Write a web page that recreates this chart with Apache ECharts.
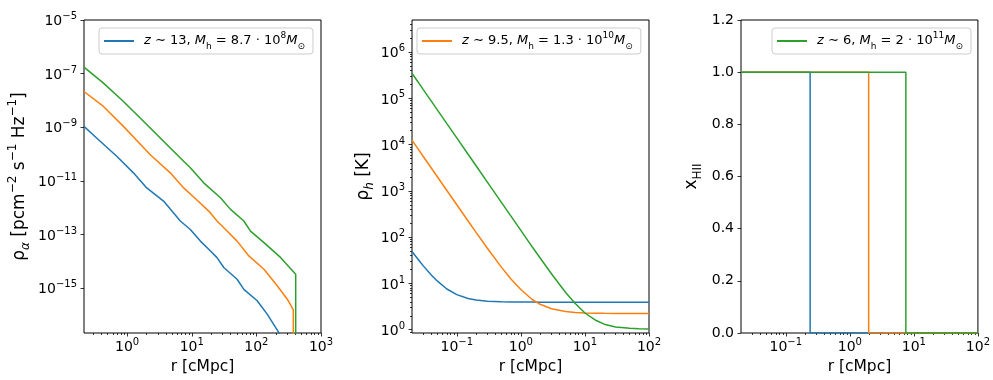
<!DOCTYPE html>
<html><head><meta charset="utf-8">
<script src="https://cdn.jsdelivr.net/npm/echarts@6/dist/echarts.min.js"></script>
<style>html,body{margin:0;padding:0;background:#fff}#c{width:993px;height:380px}</style>
</head><body><div id="c"></div>
<script>
// ---------- Panel 1: rho_alpha vs r ----------
const lya_r_blue = [0.215,0.337,0.69,1.25,2.01,3.66,6.65,9.5,13.6,19.5,24.6,31.3,50.3,64,103,147,223,300];
const lya_blue   = [1.08e-9,4.0e-10,8.3e-11,2.0e-11,5.5e-12,1.77e-12,3.2e-13,1.55e-13,5.7e-14,2.45e-14,1.38e-14,5.9e-15,2.15e-15,9.1e-16,3.4e-16,1.08e-16,2.2e-17,5e-18];
const lya_r_orange = [0.215,0.43,0.877,2.28,4.65,7.49,12.0,18.3,24.6,35.2,50.3,76.5,131,210,301,373,373];
const lya_orange   = [2.16e-8,6.0e-9,1.08e-9,9.5e-11,2.0e-11,5.5e-12,1.95e-12,7.5e-13,3.2e-13,1.35e-13,5.7e-14,1.6e-14,5.1e-15,1.23e-15,3.9e-16,1.56e-16,1e-18];
const lya_r_green = [0.215,0.43,0.877,2.28,4.65,7.49,9.5,15.3,27.8,39.8,64,81,131,238,406,406];
const lya_green   = [1.75e-7,4.44e-8,9.2e-9,9.4e-10,1.7e-10,5.4e-11,3.1e-11,8.5e-12,2.36e-12,8.7e-13,3.2e-13,1.35e-13,5.0e-14,1.38e-14,3.3e-15,1e-18];

// ---------- Panel 2: rho_h [K] vs r ----------
const th_r = [0.02,0.025,0.03,0.04,0.05,0.07,0.1,0.15,0.2,0.3,0.5,0.7,1,1.5,2,3,5,7,10,15,20,30,50,70,100];
const th_blue   = [49,33,24,15.2,11.2,7.6,5.75,4.75,4.4,4.15,4.02,3.99,3.97,3.96,3.95,3.95,3.95,3.95,3.95,3.95,3.95,3.95,3.95,3.95,3.95];
const th_orange = [12500,8000,5560,3130,2000,1020,502,224,127,57.8,22.3,12.5,7.4,4.5,3.55,2.85,2.47,2.36,2.3,2.27,2.26,2.25,2.25,2.25,2.25];
const th_green  = [350000,224000,155000,87500,56000,28500,14000,6200,3500,1550,560,285,140,62,35.5,16.2,6.4,3.75,2.3,1.58,1.32,1.15,1.08,1.05,1.04];

// ---------- Panel 3: x_HII vs r ----------
const xh_r_blue = [0.02,0.24,0.24,100];
const xh_blue   = [1,1,0,0];
const xh_r_orange = [0.02,1.97,1.97,100];
const xh_orange   = [1,1,0,0];
const xh_r_green = [0.02,7.5,7.5,100];
const xh_green   = [1,1,0,0];

// ---------- ticks / legend text ----------
const p1_xMajor = [0,1,2,3];
const p1_yMajor = [-15,-13,-11,-9,-7,-5];
const p2_xMajor = [-1,0,1,2];
const p2_yMajor = [0,1,2,3,4,5,6];
const p3_xMajor = [-1,0,1,2];
const legendTexts = [
  '{i|z}{n| ∼ 13, }{i|M}{sub|h}{n| = 8.7 · 10}{sup|8}{i|M}{sub|⊙}',
  '{i|z}{n| ∼ 9.5, }{i|M}{sub|h}{n| = 1.3 · 10}{sup|10}{i|M}{sub|⊙}',
  '{i|z}{n| ∼ 6, }{i|M}{sub|h}{n| = 2 · 10}{sup|11}{i|M}{sub|⊙}'
];

const C_BLUE='#1f77b4', C_ORANGE='#ff7f0e', C_GREEN='#2ca02c';
const FONT='DejaVu Sans';
const L = Math.log10;
const logPairs = (xs, ys) => xs.map((x,i)=>[L(x), L(ys[i])]);
const linPairs = (xs, ys) => xs.map((x,i)=>[L(x), ys[i]]);

function minorTicks(lo, hi){
  const out=[];
  for(let n=Math.floor(lo)-1;n<=Math.ceil(hi);n++){
    for(let k=2;k<=9;k++){ const v=n+L(k); if(v>lo && v<hi) out.push(v); }
  }
  return out;
}
function powLabel(v){ const e=Math.round(v); return '{b|10}{sup|'+(e<0?'−'+(-e):e)+'}'; }
const tickRich = {
  b:{fontSize:14,lineHeight:17,verticalAlign:'bottom',fontFamily:FONT,color:'#000'},
  sup:{fontSize:10,lineHeight:17,verticalAlign:'top',fontFamily:FONT,color:'#000'}
};
const nameRich = {
  b:{fontSize:17,lineHeight:25,verticalAlign:'middle',fontFamily:FONT,color:'#000'},
  sup:{fontSize:12,lineHeight:25,verticalAlign:'top',fontFamily:FONT,color:'#000'},
  sub:{fontSize:12,lineHeight:25,verticalAlign:'bottom',fontFamily:FONT,color:'#000'},
  subi:{fontSize:12,lineHeight:25,verticalAlign:'bottom',fontFamily:FONT,fontStyle:'italic',color:'#000'}
};
const tickLine = {color:'#000',width:0.8};
const noLine = {show:false, onZero:false};

function logAxisX(grid, lo, hi, majors){
  return [{
    type:'value', gridIndex:grid, position:'bottom', min:lo, max:hi,
    axisLine:noLine, splitLine:{show:false},
    axisTick:{show:true,length:3.5,lineStyle:tickLine,customValues:majors},
    axisLabel:{show:true,margin:4,customValues:majors,formatter:powLabel,rich:tickRich},
    name:'r [cMpc]', nameLocation:'middle', nameGap:25,
    nameTextStyle:{fontSize:15.5,fontFamily:FONT,color:'#000'}
  },{
    type:'value', gridIndex:grid, position:'bottom', min:lo, max:hi,
    axisLine:noLine, splitLine:{show:false},
    axisTick:{show:true,length:2,lineStyle:tickLine,customValues:minorTicks(lo,hi)},
    axisLabel:{show:false}
  }];
}

const p1xlo=L(0.215), p1xhi=3, p1ylo=-16.67, p1yhi=-5;
const p2xlo=L(0.02), p2xhi=2, p2ylo=L(0.85), p2yhi=L(4.95e6);
const p3xlo=L(0.02), p3xhi=2;

const xAxes = [].concat(
  logAxisX(0,p1xlo,p1xhi,p1_xMajor),
  logAxisX(1,p2xlo,p2xhi,p2_xMajor),
  logAxisX(2,p3xlo,p3xhi,p3_xMajor)
);
const yAxes = [
  { type:'value', gridIndex:0, position:'left', min:p1ylo, max:p1yhi,
    axisLine:noLine, splitLine:{show:false},
    axisTick:{length:3.5,lineStyle:tickLine,customValues:p1_yMajor},
    axisLabel:{margin:7,customValues:p1_yMajor,formatter:powLabel,rich:tickRich},
    name:'{b|ρ}{subi|α}{b| [pcm}{sup|−2}{b| s}{sup|−1}{b| Hz}{sup|−1}{b|]}',
    nameLocation:'middle', nameRotate:90, nameGap:52,
    nameTextStyle:{rich:nameRich}
  },
  { type:'value', gridIndex:1, position:'left', min:p2ylo, max:p2yhi,
    axisLine:noLine, splitLine:{show:false},
    axisTick:{length:3.5,lineStyle:tickLine,customValues:p2_yMajor},
    axisLabel:{margin:7,customValues:p2_yMajor,formatter:powLabel,rich:tickRich},
    name:'{b|ρ}{subi|h}{b| [K]}',
    nameLocation:'middle', nameRotate:90, nameGap:36,
    nameTextStyle:{rich:nameRich}
  },
  { type:'value', gridIndex:1, position:'left', min:p2ylo, max:p2yhi,
    axisLine:noLine, splitLine:{show:false},
    axisTick:{length:2,lineStyle:tickLine,customValues:minorTicks(p2ylo,p2yhi)},
    axisLabel:{show:false}
  },
  { type:'value', gridIndex:2, position:'left', min:0, max:1.2, interval:0.2,
    axisLine:noLine, splitLine:{show:false},
    axisTick:{length:3.5,lineStyle:tickLine},
    axisLabel:{margin:7,fontSize:14,fontFamily:FONT,color:'#000',formatter:v=>v.toFixed(1)},
    name:'{b|x}{sub|HII}',
    nameLocation:'middle', nameRotate:90, nameGap:37,
    nameTextStyle:{rich:nameRich}
  }
];

function line(name, color, xi, yi, data){
  return {name, type:'line', xAxisIndex:xi, yAxisIndex:yi, data, showSymbol:false, symbol:'none',
    lineStyle:{color, width:1.5}, itemStyle:{color}, animation:false, clip:true};
}
const series = [
  line('b1',C_BLUE,0,0,logPairs(lya_r_blue,lya_blue)),
  line('o1',C_ORANGE,0,0,logPairs(lya_r_orange,lya_orange)),
  line('g1',C_GREEN,0,0,logPairs(lya_r_green,lya_green)),
  line('b2',C_BLUE,2,1,logPairs(th_r,th_blue)),
  line('o2',C_ORANGE,2,1,logPairs(th_r,th_orange)),
  line('g2',C_GREEN,2,1,logPairs(th_r,th_green)),
  line('b3',C_BLUE,4,3,linPairs(xh_r_blue,xh_blue)),
  line('o3',C_ORANGE,4,3,linPairs(xh_r_orange,xh_orange)),
  line('g3',C_GREEN,4,3,linPairs(xh_r_green,xh_green))
];

const legRich = {
  n:{fontSize:13,lineHeight:20,verticalAlign:'middle',fontFamily:FONT,color:'#000'},
  i:{fontSize:13,lineHeight:20,verticalAlign:'middle',fontFamily:FONT,fontStyle:'italic',color:'#000'},
  sub:{fontSize:9,lineHeight:20,verticalAlign:'bottom',fontFamily:FONT,color:'#000'},
  sup:{fontSize:9,lineHeight:20,verticalAlign:'top',fontFamily:FONT,color:'#000'}
};
function leg(name, idx, left){
  return {data:[name], left, top:28, icon:'rect', itemWidth:30, itemHeight:2,
    padding:[3,8,3,5], borderColor:'#cccccc', borderWidth:1, borderRadius:3,
    backgroundColor:'rgba(255,255,255,0.8)', selectedMode:false,
    formatter:()=>legendTexts[idx], textStyle:{rich:legRich, padding:[0,0,0,5]}};
}

const chart = echarts.init(document.getElementById('c'), null, {renderer:'canvas'});
chart.setOption({
  animation:false,
  backgroundColor:'#fff',
  grid:[
    {left:84, top:20, width:237, height:313, show:true, borderColor:'#000', borderWidth:1, backgroundColor:'transparent'},
    {left:412, top:20, width:237, height:313, show:true, borderColor:'#000', borderWidth:1, backgroundColor:'transparent'},
    {left:741, top:20, width:237, height:313, show:true, borderColor:'#000', borderWidth:1, backgroundColor:'transparent'}
  ],
  legend:[leg('b1',0,99), leg('o2',1,417), leg('g3',2,772)],
  xAxis:xAxes, yAxis:yAxes, series
});
</script></body></html>
